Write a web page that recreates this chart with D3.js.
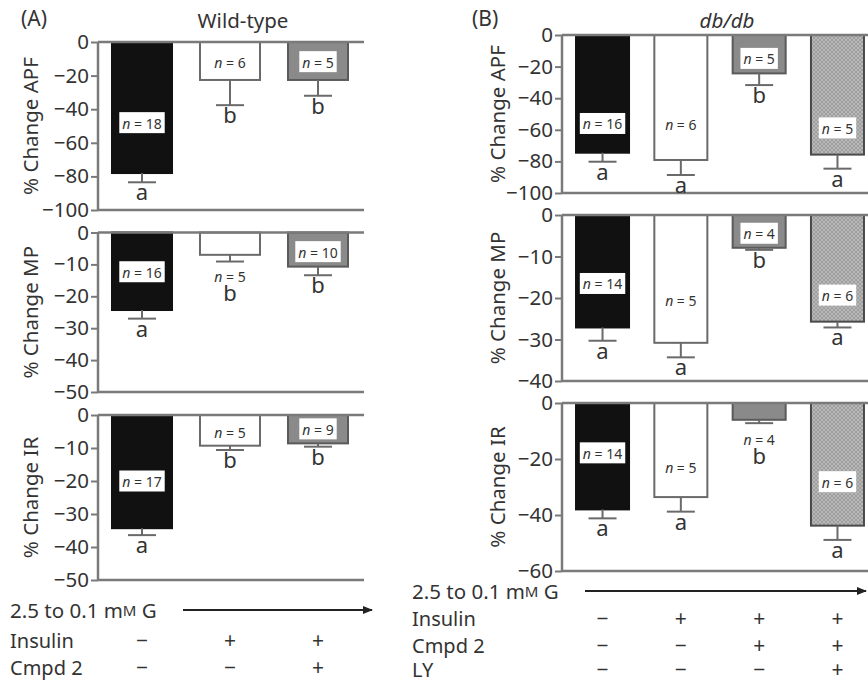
<!DOCTYPE html>
<html><head><meta charset="utf-8">
<script src="https://cdn.jsdelivr.net/npm/d3@7/dist/d3.min.js"></script>
<style>
body{margin:0;background:#fff}
svg{display:block}
text{font-family:"Noto Sans",sans-serif;fill:#333}
</style>
</head><body><svg id="c" width="868" height="682"></svg>
<script>
// ---------- data ----------
const groupsA = ["Control", "Insulin", "Insulin+Cmpd2"];
const groupsB = ["Control", "Insulin", "Insulin+Cmpd2", "Insulin+Cmpd2+LY"];
const metricLabels = ["% Change APF", "% Change MP", "% Change IR"];

const ticksA_APF = [0, -20, -40, -60, -80, -100];
const ticksA_MP  = [0, -10, -20, -30, -40, -50];
const ticksA_IR  = [0, -10, -20, -30, -40, -50];
const ticksB_APF = [0, -20, -40, -60, -80, -100];
const ticksB_MP  = [0, -10, -20, -30, -40];
const ticksB_IR  = [0, -20, -40, -60];

const A_APF_mean = [-78, -22.6, -22.6];
const A_APF_sem  = [5.5, 15, 9.4];
const A_APF_n    = [18, 6, 5];
const A_APF_let  = ["a", "b", "b"];
const A_APF_nAt  = [-48, -11.7, -11.7];

const A_MP_mean = [-24.3, -7, -10.7];
const A_MP_sem  = [2.7, 2.1, 2.7];
const A_MP_n    = [16, 5, 10];
const A_MP_let  = ["a", "b", "b"];
const A_MP_nAt  = [-12.3, -13.6, -6];

const A_IR_mean = [-34.3, -9.3, -8.6];
const A_IR_sem  = [2.1, 1.3, 1.0];
const A_IR_n    = [17, 5, 9];
const A_IR_let  = ["a", "b", "b"];
const A_IR_nAt  = [-20, -5.2, -4.2];

const B_APF_mean = [-74.5, -79.1, -24.3, -75.7];
const B_APF_sem  = [5.7, 9.5, 7.4, 8.9];
const B_APF_n    = [16, 6, 5, 5];
const B_APF_let  = ["a", "a", "b", "a"];
const B_APF_nAt  = [-56, -56.5, -14.8, -58.8];

const B_MP_mean = [-27.1, -30.8, -7.9, -25.7];
const B_MP_sem  = [3.2, 3.5, 0.5, 1.4];
const B_MP_n    = [14, 5, 4, 6];
const B_MP_let  = ["a", "a", "b", "a"];
const B_MP_nAt  = [-16.5, -20.6, -4.4, -19.3];

const B_IR_mean = [-38, -33.6, -6, -43.8];
const B_IR_sem  = [3.2, 5.2, 1.2, 5.1];
const B_IR_n    = [14, 5, 4, 6];
const B_IR_let  = ["a", "a", "b", "a"];
const B_IR_nAt  = [-17.8, -22.8, -12.7, -28.1];

const rowLabelsA = ["Insulin", "Cmpd 2"];
const A_insulin = ["−", "+", "+"];
const A_cmpd2   = ["−", "−", "+"];
const rowLabelsB = ["Insulin", "Cmpd 2", "LY"];
const B_insulin = ["−", "+", "+", "+"];
const B_cmpd2   = ["−", "−", "+", "+"];
const B_ly      = ["−", "−", "−", "+"];

// ---------- drawing ----------
const svg = d3.select("#c");
const defs = svg.append("defs");
const pat = defs.append("pattern").attr("id", "hatch").attr("patternUnits", "userSpaceOnUse")
  .attr("width", 4).attr("height", 4);
pat.append("rect").attr("width", 4).attr("height", 4).attr("fill", "#b8b8b8");
pat.append("path").attr("d", "M0,4 L4,0 M0,0 L4,4").attr("stroke", "#979797").attr("stroke-width", 0.8);
const mk = defs.append("marker").attr("id", "arrow").attr("viewBox", "0 0 10 10").attr("refX", 9).attr("refY", 5)
  .attr("markerWidth", 5).attr("markerHeight", 5).attr("orient", "auto");
mk.append("path").attr("d", "M0,1 L10,5 L0,9 z").attr("fill", "#222");

const AX = "#7a7a7a";
const styles = [
  {fill: "#111", stroke: "#111", box: true},
  {fill: "#fff", stroke: "#6a6a6a", box: false},
  {fill: "#8a8a8a", stroke: "#5a5a5a", box: true},
  {fill: "url(#hatch)", stroke: "#4a4a4a", box: true}
];

function panel(g, cfg) {
  const {x, top, bottom, ticks, mean, sem, ns, lets, nAt, label, rightEnd, labelX} = cfg;
  const y = d3.scaleLinear().domain([d3.min(ticks), 0]).range([bottom, top]);
  const x0 = x.range()[0];
  const ax = d3.axisLeft(y).tickValues(ticks).tickSize(7).tickPadding(2)
    .tickFormat(d => d === 0 ? "0" : "−" + Math.abs(d));
  const axg = g.append("g").attr("transform", `translate(${x0},0)`).call(ax);
  axg.select(".domain").remove();
  axg.selectAll(".tick line").attr("stroke", AX).attr("stroke-width", 2);
  axg.selectAll(".tick text").attr("font-size", 20.5).attr("fill", "#333")
    .attr("font-family", '"Noto Sans",sans-serif');
  g.append("line").attr("x1", x0).attr("x2", x0).attr("y1", y(0)).attr("y2", y(d3.min(ticks)))
    .attr("stroke", AX).attr("stroke-width", 2.5);
  g.append("line").attr("x1", x0).attr("x2", rightEnd).attr("y1", y(d3.min(ticks))).attr("y2", y(d3.min(ticks)))
    .attr("stroke", AX).attr("stroke-width", 2.5);
  x.domain().forEach((c, i) => {
    const st = styles[i];
    g.append("rect").attr("x", x(c)).attr("width", x.bandwidth())
      .attr("y", y(0)).attr("height", y(mean[i]) - y(0))
      .attr("fill", st.fill).attr("stroke", st.stroke).attr("stroke-width", 2);
    const cx = x(c) + x.bandwidth() / 2;
    const yE = y(mean[i] - sem[i]);
    g.append("line").attr("x1", cx).attr("x2", cx).attr("y1", y(mean[i])).attr("y2", yE)
      .attr("stroke", "#6a6a6a").attr("stroke-width", 2);
    g.append("line").attr("x1", cx - 14).attr("x2", cx + 14).attr("y1", yE).attr("y2", yE)
      .attr("stroke", "#6a6a6a").attr("stroke-width", 2);
    const inside = nAt[i] > mean[i];
    const ny = y(nAt[i]);
    const t = g.append("text").attr("x", cx).attr("y", ny).attr("text-anchor", "middle")
      .attr("dominant-baseline", "central").attr("font-size", 14);
    t.append("tspan").attr("font-style", "italic").text("n");
    t.append("tspan").text(" = " + ns[i]);
    if (inside && st.box) {
      const bb = t.node().getBBox();
      g.insert("rect", () => t.node()).attr("x", bb.x - 3).attr("y", bb.y - 1)
        .attr("width", bb.width + 6).attr("height", bb.height + 2).attr("fill", "#fff");
    }
    const ly = inside ? yE + 18 : ny + 25;
    g.append("text").attr("x", cx).attr("y", ly).attr("text-anchor", "middle")
      .attr("font-size", 22).text(lets[i]);
  });
  g.append("line").attr("x1", x0).attr("x2", rightEnd).attr("y1", y(0)).attr("y2", y(0))
    .attr("stroke", AX).attr("stroke-width", 2.5);
  g.append("text").attr("transform", `translate(${labelX},${(top + bottom) / 2}) rotate(-90)`)
    .attr("text-anchor", "middle").attr("dominant-baseline", "central").attr("font-size", 20.5).text(label);
}

const xA = d3.scaleBand().domain(groupsA).range([98, 362]).paddingInner(0.318).paddingOuter(0.159);
const gA = svg.append("g");
panel(gA, {x: xA, top: 42, bottom: 210, ticks: ticksA_APF, mean: A_APF_mean, sem: A_APF_sem, ns: A_APF_n, lets: A_APF_let, nAt: A_APF_nAt, label: metricLabels[0], rightEnd: 364, labelX: 30});
panel(gA, {x: xA, top: 232.5, bottom: 392, ticks: ticksA_MP, mean: A_MP_mean, sem: A_MP_sem, ns: A_MP_n, lets: A_MP_let, nAt: A_MP_nAt, label: metricLabels[1], rightEnd: 364, labelX: 30});
panel(gA, {x: xA, top: 415, bottom: 580, ticks: ticksA_IR, mean: A_IR_mean, sem: A_IR_sem, ns: A_IR_n, lets: A_IR_let, nAt: A_IR_nAt, label: metricLabels[2], rightEnd: 364, labelX: 30});

const xB = d3.scaleBand().domain(groupsB).range([562, 878]).paddingInner(0.323).paddingOuter(0.179);
const gB = svg.append("g");
panel(gB, {x: xB, top: 35, bottom: 193, ticks: ticksB_APF, mean: B_APF_mean, sem: B_APF_sem, ns: B_APF_n, lets: B_APF_let, nAt: B_APF_nAt, label: metricLabels[0], rightEnd: 870, labelX: 497});
panel(gB, {x: xB, top: 215, bottom: 381, ticks: ticksB_MP, mean: B_MP_mean, sem: B_MP_sem, ns: B_MP_n, lets: B_MP_let, nAt: B_MP_nAt, label: metricLabels[1], rightEnd: 870, labelX: 497});
panel(gB, {x: xB, top: 403, bottom: 571, ticks: ticksB_IR, mean: B_IR_mean, sem: B_IR_sem, ns: B_IR_n, lets: B_IR_let, nAt: B_IR_nAt, label: metricLabels[2], rightEnd: 870, labelX: 497});

svg.append("text").attr("x", 21).attr("y", 18).attr("dominant-baseline", "central").attr("font-size", 21).text("(A)");
svg.append("text").attr("x", 243).attr("y", 20).attr("text-anchor", "middle").attr("dominant-baseline", "central").attr("font-size", 20.5).text("Wild-type");
svg.append("text").attr("x", 472).attr("y", 18).attr("dominant-baseline", "central").attr("font-size", 21).text("(B)");
svg.append("text").attr("x", 727).attr("y", 20).attr("text-anchor", "middle").attr("dominant-baseline", "central").attr("font-size", 20.5).attr("font-style", "italic").text("db/db");

function table(x, gy, rowYs, labels, rows, lx, arrowX1, arrowX2) {
  const gt = svg.append("text").attr("x", lx).attr("y", gy).attr("dominant-baseline", "central").attr("font-size", 20.5);
  gt.append("tspan").text("2.5 to 0.1 m");
  gt.append("tspan").attr("font-size", 15).text("M");
  gt.append("tspan").text(" G");
  svg.append("line").attr("x1", arrowX1).attr("x2", arrowX2).attr("y1", gy).attr("y2", gy)
    .attr("stroke", "#222").attr("stroke-width", 2).attr("marker-end", "url(#arrow)");
  labels.forEach((lab, r) => {
    svg.append("text").attr("x", lx).attr("y", rowYs[r]).attr("dominant-baseline", "central").attr("font-size", 20).text(lab);
    x.domain().forEach((c, i) => {
      svg.append("text").attr("x", x(c) + x.bandwidth() / 2).attr("y", rowYs[r]).attr("text-anchor", "middle")
        .attr("dominant-baseline", "central").attr("font-size", 21).text(rows[r][i]);
    });
  });
}
table(xA, 610, [640, 667], rowLabelsA, [A_insulin, A_cmpd2], 10, 183, 372);
table(xB, 591, [618, 645, 669], rowLabelsB, [B_insulin, B_cmpd2, B_ly], 412, 585, 866);
</script>
</body></html>
